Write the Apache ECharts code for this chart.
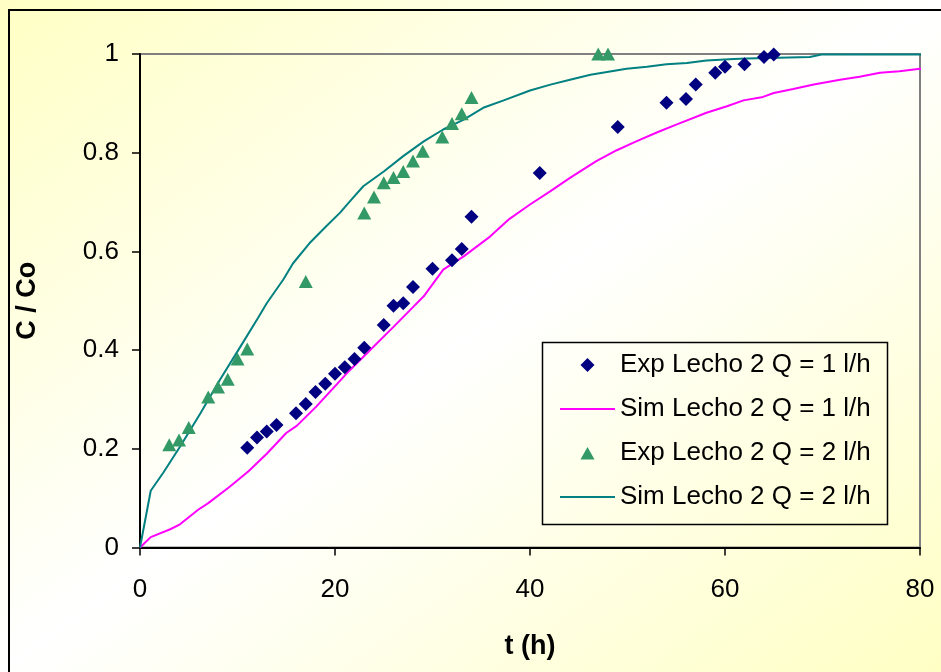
<!DOCTYPE html>
<html>
<head>
<meta charset="utf-8">
<script src="https://cdn.jsdelivr.net/npm/echarts@6/dist/echarts.min.js"></script>
<style>
  html, body { margin: 0; padding: 0; }
  #chart {
    width: 941px; height: 672px;
    background: linear-gradient(to bottom right, #ffffc4 0%, #ffffff 50%, #ffffc4 100%);
  }
</style>
</head>
<body>
<div id="chart"></div>
<script>
// ---- data ----
const seriesNames = ['Exp Lecho 2 Q = 1 l/h', 'Sim Lecho 2 Q = 1 l/h', 'Exp Lecho 2 Q = 2 l/h', 'Sim Lecho 2 Q = 2 l/h'];

const tExp1 = [11, 12, 13, 14, 16, 17, 18, 19, 20, 21, 22, 23, 25, 26, 27, 28, 30, 32, 33, 34, 41, 49, 54, 56, 57, 59, 60, 62, 64, 65];
const cExp1 = [0.202, 0.223, 0.235, 0.248, 0.272, 0.291, 0.315, 0.332, 0.352, 0.365, 0.382, 0.405, 0.451, 0.490, 0.495, 0.528, 0.565, 0.582, 0.605, 0.670, 0.759, 0.852, 0.901, 0.909, 0.938, 0.962, 0.974, 0.979, 0.994, 0.999];

const tSim1 = [0, 1.1, 3.1, 4.1, 6.0, 7.0, 9.2, 11.1, 13.0, 15.0, 16.1, 18.1, 20.2, 21.2, 23.2, 26.0, 28.0, 29.1, 31.1, 33.2, 35.9, 37.9, 40.0, 42.1, 44.1, 46.8, 48.9, 50.9, 53.0, 55.0, 58.1, 60.2, 61.9, 63.9, 65.0, 67.0, 69.1, 71.8, 73.8, 75.9, 77.9, 80.0, 80.9];
const cSim1 = [0, 0.021, 0.037, 0.047, 0.077, 0.090, 0.123, 0.154, 0.190, 0.232, 0.247, 0.286, 0.331, 0.353, 0.392, 0.447, 0.487, 0.509, 0.563, 0.590, 0.630, 0.666, 0.695, 0.722, 0.749, 0.783, 0.805, 0.823, 0.841, 0.857, 0.881, 0.894, 0.906, 0.913, 0.921, 0.929, 0.938, 0.948, 0.954, 0.962, 0.965, 0.970, 0.970];

const tExp2 = [3, 4, 5, 7, 8, 9, 10, 11, 17, 23, 24, 25, 26, 27, 28, 29, 31, 32, 33, 34, 47, 48];
const cExp2 = [0.208, 0.218, 0.243, 0.305, 0.325, 0.341, 0.382, 0.402, 0.539, 0.678, 0.710, 0.739, 0.750, 0.762, 0.783, 0.803, 0.832, 0.859, 0.879, 0.912, 1.0, 1.0];

const tSim2 = [0, 1.1, 2.4, 4.1, 6.2, 8.2, 10.3, 12.1, 13.0, 14.7, 15.7, 17.4, 19.1, 20.5, 21.5, 22.9, 25.0, 27.0, 29.1, 31.1, 33.2, 35.2, 37.3, 40.0, 42.1, 44.1, 46.2, 49.9, 52.0, 54.0, 56.1, 58.1, 60.9, 62.2, 68.7, 69.9, 80.9];
const cSim2 = [0, 0.115, 0.152, 0.204, 0.272, 0.340, 0.407, 0.465, 0.495, 0.543, 0.576, 0.617, 0.651, 0.678, 0.701, 0.732, 0.762, 0.793, 0.823, 0.847, 0.867, 0.891, 0.906, 0.926, 0.938, 0.948, 0.958, 0.970, 0.974, 0.979, 0.982, 0.987, 0.990, 0.991, 0.994, 0.999, 0.999];

const xTitle = 't (h)';
const yTitle = 'C / Co';

function pairs(xs, ys) { return xs.map((x, i) => [x, ys[i]]); }

// legend icons: a 55x14 box with the mark centred (invisible moveTo's fix the box)
const ICON_DIAMOND = 'path://M0,0 M55,14 M27.5,0 L34.5,7 L27.5,14 L20.5,7 Z';
const ICON_TRIANGLE = 'path://M0,0 M55,14 M27.5,1 L34.5,13.5 L20.5,13.5 Z';
const ICON_LINE = 'path://M0,0 M55,14 M0,6 L55,6 L55,8 L0,8 Z';

const FONT = "'Liberation Sans', Arial, sans-serif";
const chart = echarts.init(document.getElementById('chart'), null, { renderer: 'canvas' });

chart.setOption({
  backgroundColor: 'transparent',
  animation: false,
  textStyle: { fontFamily: FONT },
  grid: {
    left: 140, right: 21, top: 54, bottom: 124.5,
    show: true, borderColor: '#808080', borderWidth: 2, backgroundColor: 'transparent'
  },
  xAxis: {
    type: 'value', min: 0, max: 80, interval: 20,
    name: xTitle, nameLocation: 'middle', nameGap: 86,
    nameTextStyle: { fontFamily: FONT, fontSize: 27, fontWeight: 'bold', color: '#000' },
    axisLine: { show: true, onZero: false, lineStyle: { color: '#000', width: 2 } },
    axisTick: { show: true, inside: false, length: 8, lineStyle: { color: '#000', width: 1.5 } },
    axisLabel: { fontFamily: FONT, fontSize: 26, color: '#000', margin: 29 },
    splitLine: { show: false }
  },
  yAxis: {
    type: 'value', min: 0, max: 1, interval: 0.2,
    name: yTitle, nameLocation: 'middle', nameGap: 99, nameRotate: 90,
    nameTextStyle: { fontFamily: FONT, fontSize: 27, fontWeight: 'bold', color: '#000' },
    axisLine: { show: true, onZero: false, lineStyle: { color: '#000', width: 2 } },
    axisTick: { show: true, inside: false, length: 8, lineStyle: { color: '#000', width: 1.5 } },
    axisLabel: { fontFamily: FONT, fontSize: 26, color: '#000', margin: 21 },
    splitLine: { show: false }
  },
  legend: {
    orient: 'vertical', left: 560, top: 352, padding: 0,
    itemWidth: 55, itemHeight: 14, itemGap: 18,
    itemStyle: { borderWidth: 0 },
    textStyle: { fontFamily: FONT, fontSize: 26, color: '#000', lineHeight: 26 },
    data: [
      { name: seriesNames[0], icon: ICON_DIAMOND },
      { name: seriesNames[1], icon: ICON_LINE },
      { name: seriesNames[2], icon: ICON_TRIANGLE },
      { name: seriesNames[3], icon: ICON_LINE }
    ]
  },
  graphic: [
    { type: 'rect', silent: true, z: 100,
      shape: { x: 9, y: 10, width: 1000, height: 1000 },
      style: { fill: null, stroke: '#000', lineWidth: 2 } },
    { type: 'rect', silent: true, z: 100,
      shape: { x: 542.5, y: 342.5, width: 345, height: 182 },
      style: { fill: null, stroke: '#000', lineWidth: 1.5 } }
  ],
  series: [
    {
      name: seriesNames[0], type: 'scatter', z: 5,
      symbol: 'diamond', symbolSize: 14,
      itemStyle: { color: '#000080', opacity: 1 },
      data: pairs(tExp1, cExp1)
    },
    {
      name: seriesNames[1], type: 'line', z: 3, clip: false,
      symbol: 'none', smooth: false,
      lineStyle: { color: '#ff00ff', width: 2 },
      itemStyle: { color: '#ff00ff' },
      data: pairs(tSim1, cSim1)
    },
    {
      name: seriesNames[2], type: 'scatter', z: 5,
      symbol: 'triangle', symbolSize: [14, 13],
      itemStyle: { color: '#339966', opacity: 1 },
      data: pairs(tExp2, cExp2)
    },
    {
      name: seriesNames[3], type: 'line', z: 3, clip: false,
      symbol: 'none', smooth: false,
      lineStyle: { color: '#008080', width: 2 },
      itemStyle: { color: '#008080' },
      data: pairs(tSim2, cSim2)
    }
  ]
});
</script>
</body>
</html>
